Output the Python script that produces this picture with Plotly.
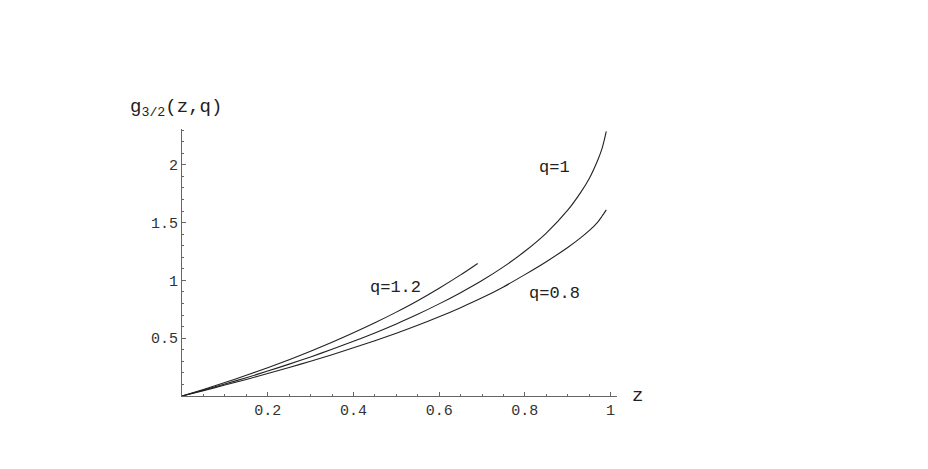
import plotly.graph_objects as go

# values
z_q1 = [0, 0.05, 0.1, 0.15, 0.2, 0.25, 0.3, 0.35, 0.4, 0.45, 0.5, 0.55, 0.6, 0.65, 0.7,
        0.75, 0.8, 0.85, 0.9, 0.93, 0.95, 0.97, 0.98, 0.99]
g_q1 = [0, 0.0509, 0.1037, 0.1584, 0.2159, 0.2757, 0.3383, 0.404, 0.4734, 0.546, 0.624,
        0.707, 0.797, 0.894, 0.999, 1.117, 1.252, 1.41, 1.608, 1.76, 1.88, 2.04, 2.14, 2.29]

z_q08 = [0, 0.05, 0.1, 0.15, 0.2, 0.25, 0.3, 0.35, 0.4, 0.45, 0.5, 0.55, 0.6, 0.65, 0.7,
         0.75, 0.8, 0.85, 0.9, 0.93, 0.95, 0.97, 0.98, 0.99]
g_q08 = [0, 0.0466, 0.0944, 0.1434, 0.1943, 0.2468, 0.3011, 0.3575, 0.4166, 0.4778, 0.5429,
         0.6116, 0.6854, 0.7644, 0.8492, 0.9439, 1.05, 1.162, 1.285, 1.368, 1.43, 1.505, 1.555, 1.61]

z_q12 = [0, 0.05, 0.1, 0.15, 0.2, 0.25, 0.3, 0.35, 0.4, 0.45, 0.5, 0.55, 0.6, 0.65, 0.69]
g_q12 = [0, 0.057, 0.1167, 0.179, 0.245, 0.3143, 0.3874, 0.4646, 0.5468, 0.6334, 0.7257,
         0.8244, 0.9325, 1.0478, 1.147]

x_ticks = [0.2, 0.4, 0.6, 0.8, 1]
x_tick_text = ["0.2", "0.4", "0.6", "0.8", "1"]
y_ticks = [0.5, 1, 1.5, 2]
y_tick_text = ["0.5", "1", "1.5", "2"]

curve_labels = [("q=1", 0.868, 1.98), ("q=1.2", 0.497, 0.936), ("q=0.8", 0.87, 0.89)]

MONO = "Liberation Mono, Courier New, monospace"
LINE = "#222222"
AXIS = "#666666"

fig = go.Figure()
for zs, gs in [(z_q1, g_q1), (z_q08, g_q08), (z_q12, g_q12)]:
    fig.add_trace(
        go.Scatter(x=zs, y=gs, mode="lines",
                   line=dict(color=LINE, width=1.1, shape="spline", smoothing=0.8),
                   showlegend=False, hoverinfo="skip")
    )

for text, x, y in curve_labels:
    fig.add_annotation(text=text, x=x, y=y, showarrow=False,
                       font=dict(family=MONO, size=17, color="#222"))

fig.add_annotation(text="g<sub>3/2</sub>(z,q)", xref="paper", yref="paper",
                   x=-0.125, y=1.08, xanchor="left", yanchor="middle", showarrow=False,
                   font=dict(family=MONO, size=19, color="#222"))
fig.add_annotation(text="z", xref="paper", yref="y", x=1.046, y=0, xanchor="center",
                   yanchor="middle", showarrow=False, font=dict(family=MONO, size=19, color="#222"))

axis_common = dict(
    showgrid=False, zeroline=False, showline=True, linecolor=AXIS, linewidth=1,
    ticks="inside", ticklen=4, tickcolor=AXIS, tickwidth=1,
    tickfont=dict(family=MONO, size=15, color="#333"),
)
fig.update_xaxes(range=[0, 1.015], tickmode="array", tickvals=x_ticks, ticktext=x_tick_text,
                 minor=dict(ticks="inside", ticklen=2, dtick=0.05, tick0=0, tickcolor=AXIS),
                 **axis_common)
fig.update_yaxes(range=[0, 2.31], tickmode="array", tickvals=y_ticks, ticktext=y_tick_text,
                 minor=dict(ticks="inside", ticklen=2, dtick=0.1, tick0=0, tickcolor=AXIS),
                 **axis_common)

# the page body adds an 8px offset, so the margins are shifted to compensate
fig.update_layout(
    width=928, height=469,
    margin=dict(l=174, r=319, t=121, b=81),
    paper_bgcolor="white", plot_bgcolor="white",
)
fig.write_html("out.html")
